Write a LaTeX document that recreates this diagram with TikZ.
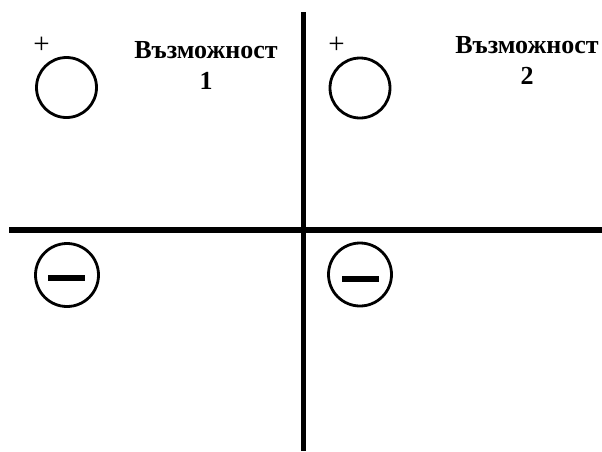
\documentclass[tikz,border=0pt]{standalone}
\usepackage{fontspec}
\setmainfont{Liberation Serif}
\usepackage{tikz}
\usetikzlibrary{positioning}

\begin{document}
\begin{tikzpicture}[
  x=1pt, y=-1pt,
  axis/.style={line width=5.5pt},
  sign/.style={draw, circle, line width=2.8pt, inner sep=0pt},
  bar/.style={line width=6pt},
  plus/.style={font=\fontsize{29}{29}\selectfont, inner sep=0pt},
  label/.style={align=center, font=\fontsize{26}{31}\selectfont\bfseries, inner sep=0pt}
]
\useasboundingbox (0,0) rectangle (602,451);
% axes
\coordinate (top) at (303.5,12);
\coordinate (bottom) at (303.5,451);
\coordinate (left) at (9,230);
\coordinate (right) at (602,230);
\draw[axis] (top) -- (bottom);
\draw[axis] (left) -- (right);
% upper half
\node[sign, minimum size=60pt] (pos1) at (66.5,87.5) {};
\node[sign, minimum size=60pt] (pos2) at (360,88) {};
\node[plus] (p1) at (41.5,45) {+};
\node[plus] (p2) at (336.5,45) {+};
\node[label] (opt1) at (206,65.5) {Възможност\\1};
\node[label] (opt2) at (527,60.5) {Възможност\\2};
% lower half
\node[sign, minimum size=63pt] (neg1) at (67,275) {};
\node[sign, minimum size=63pt] (neg2) at (360,274.5) {};
\draw[bar] ([xshift=-19pt,yshift=-3pt]neg1.center) -- ([xshift=18pt,yshift=-3pt]neg1.center);
\draw[bar] ([xshift=-18pt,yshift=-4pt]neg2.center) -- ([xshift=19pt,yshift=-4pt]neg2.center);
\end{tikzpicture}
\end{document}
